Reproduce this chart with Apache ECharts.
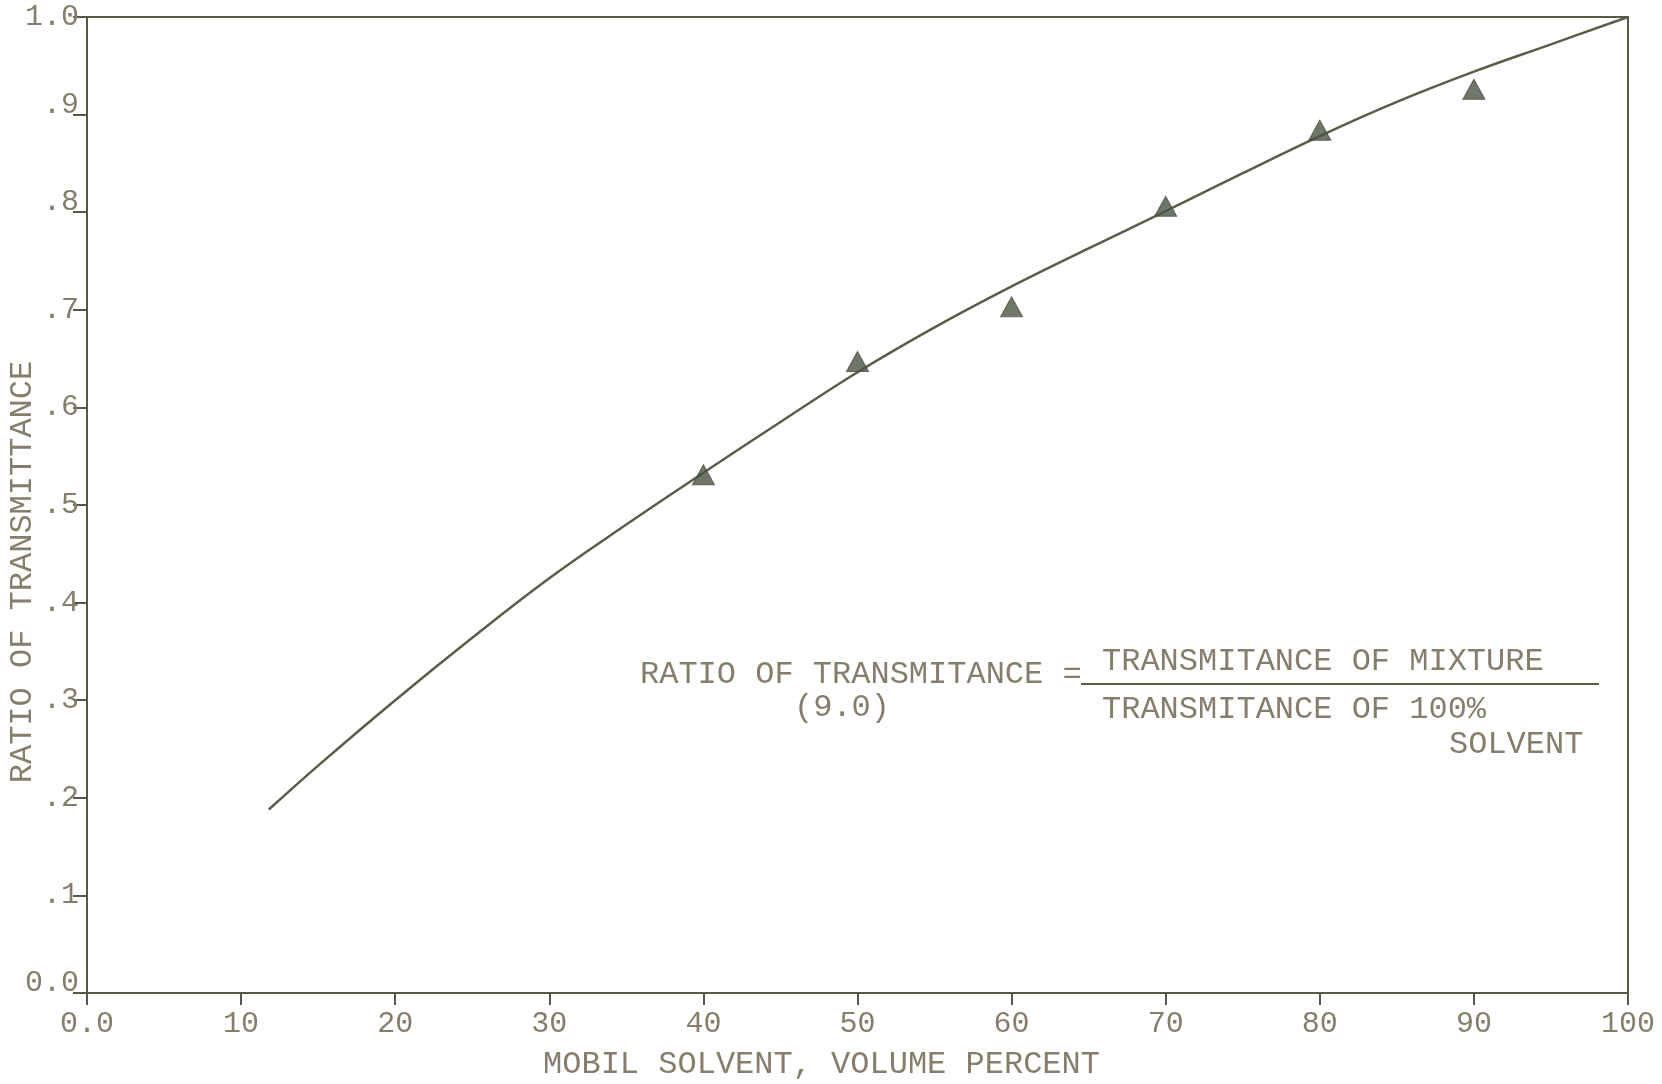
<!DOCTYPE html>
<html>
<head>
<meta charset="utf-8">
<title>Ratio of Transmittance vs Mobil Solvent</title>
<script src="https://cdn.jsdelivr.net/npm/echarts@6/dist/echarts.min.js"></script>
<style>
  html, body { margin: 0; padding: 0; background: #ffffff; }
  #chart { width: 1662px; height: 1084px; }
</style>
</head>
<body>
<div id="chart"></div>
<script>
// Measured points (triangles): volume percent of Mobil solvent vs ratio of transmittance
const measuredX = [40, 50, 60, 70, 80, 90];
const measuredY = [0.531, 0.647, 0.703, 0.806, 0.884, 0.926];

// Smoothed fitted curve
const curveX = [11.8, 15, 20, 25, 30, 35, 40, 45, 50, 55, 60, 65, 70, 75, 80, 85, 90, 95, 100];
const curveY = [0.188, 0.233, 0.300, 0.364, 0.425, 0.480, 0.533, 0.585, 0.636, 0.682, 0.724, 0.763, 0.801, 0.840, 0.878, 0.913, 0.944, 0.972, 1.0];

// Axis tick labels
const xTickLabels = ['0.0', '10', '20', '30', '40', '50', '60', '70', '80', '90', '100'];
const yTickLabels = ['0.0', '.1', '.2', '.3', '.4', '.5', '.6', '.7', '.8', '.9', '1.0'];
// tick labels that sit a little above their tick mark
const raisedYLabels = ['0.0', '.8', '.9'];

const FONT = '"Liberation Mono", "DejaVu Sans Mono", monospace';
const TEXT_COLOR = '#857e6c';
const LINE_COLOR = '#57574a';

const chart = echarts.init(document.getElementById('chart'));

chart.setOption({
  backgroundColor: '#ffffff',
  animation: false,
  grid: {
    left: 87, right: 34, top: 17, bottom: 91,
    containLabel: false,
    outerBoundsMode: 'none',
    show: true, borderColor: LINE_COLOR, borderWidth: 2
  },
  xAxis: {
    type: 'value', min: 0, max: 100, interval: 10,
    splitLine: { show: false },
    axisLine: { lineStyle: { color: LINE_COLOR, width: 2 } },
    axisTick: { length: 12, lineStyle: { color: LINE_COLOR, width: 2 } },
    axisLabel: {
      margin: 16, color: TEXT_COLOR, fontFamily: FONT, fontSize: 30,
      formatter: v => xTickLabels[Math.round(v / 10)]
    },
    name: 'MOBIL SOLVENT, VOLUME PERCENT',
    nameLocation: 'middle', nameGap: 56,
    nameMoveOverlap: false,
    nameTextStyle: { color: TEXT_COLOR, fontFamily: FONT, fontSize: 32, padding: [0, 72, 0, 0] }
  },
  yAxis: {
    type: 'value', min: 0, max: 1, interval: 0.1,
    splitLine: { show: false },
    axisLine: { lineStyle: { color: LINE_COLOR, width: 2 } },
    axisTick: { length: 14, lineStyle: { color: LINE_COLOR, width: 2 } },
    axisLabel: {
      margin: 8, color: TEXT_COLOR, fontFamily: FONT, fontSize: 30,
      formatter: v => {
        const t = yTickLabels[Math.round(v * 10)];
        return raisedYLabels.includes(t) ? '{up|' + t + '}' : t;
      },
      rich: {
        up: { color: TEXT_COLOR, fontFamily: FONT, fontSize: 30, padding: [0, 0, 20, 0] }
      }
    },
    name: 'RATIO OF TRANSMITTANCE',
    nameLocation: 'middle', nameGap: 48,
    nameMoveOverlap: false,
    nameTextStyle: { color: TEXT_COLOR, fontFamily: FONT, fontSize: 32, padding: [0, 134, 0, 0] }
  },
  series: [
    {
      type: 'line',
      data: curveX.map((x, i) => [x, curveY[i]]),
      smooth: 0.4,
      showSymbol: false,
      symbol: 'none',
      lineStyle: { color: '#5a5d4b', width: 2.5 },
      z: 2
    },
    {
      type: 'scatter',
      data: measuredX.map((x, i) => [x, measuredY[i]]),
      symbol: 'triangle',
      symbolSize: [22, 20],
      itemStyle: { color: '#4c5443', borderColor: '#4a4a42', borderWidth: 1 },
      z: 3
    }
  ],
  graphic: [
    {
      type: 'text', left: 640, top: 659,
      style: { text: 'RATIO OF TRANSMITANCE =', fill: TEXT_COLOR, font: '32px ' + FONT }
    },
    {
      type: 'text', left: 794, top: 692,
      style: { text: '(9.0)', fill: TEXT_COLOR, font: '32px ' + FONT }
    },
    {
      type: 'line',
      shape: { x1: 1081, y1: 684, x2: 1599, y2: 684 },
      style: { stroke: '#5d5d4e', lineWidth: 2 }
    },
    {
      type: 'text', left: 1102, top: 646,
      style: { text: 'TRANSMITANCE OF MIXTURE', fill: TEXT_COLOR, font: '32px ' + FONT }
    },
    {
      type: 'text', left: 1102, top: 694,
      style: { text: 'TRANSMITANCE OF 100%', fill: TEXT_COLOR, font: '32px ' + FONT }
    },
    {
      type: 'text', left: 1449, top: 729,
      style: { text: 'SOLVENT', fill: TEXT_COLOR, font: '32px ' + FONT }
    }
  ]
});
</script>
</body>
</html>
